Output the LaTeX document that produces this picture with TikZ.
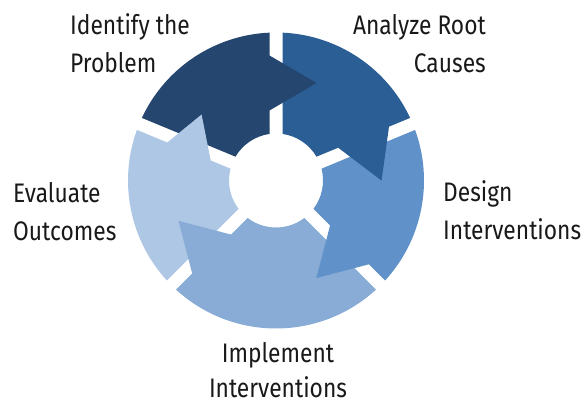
\documentclass[tikz,border=0pt]{standalone}
\usepackage{fontspec}
\setmainfont{Fira Sans}[FakeStretch=0.85]

\definecolor{stepA}{HTML}{24466F}
\definecolor{stepB}{HTML}{2C5E96}
\definecolor{stepC}{HTML}{6092C9}
\definecolor{stepD}{HTML}{88ACD6}
\definecolor{stepE}{HTML}{AEC7E4}

% ring geometry
\def\Ro{148}   % outer radius
\def\Ri{47}    % inner radius
\def\gp{6.5}   % half width of the straight gaps
\pgfmathsetmacro\dO{asin(\gp/\Ro)}
\pgfmathsetmacro\dI{asin(\gp/\Ri)}

% ring segment from gap angle #1 clockwise to gap angle #2
\newcommand\ringseg[3]{%
  \fill[#3] ({#1-\dO}:\Ro) arc[start angle={#1-\dO}, end angle={#2+\dO}, radius=\Ro]
    -- ({#2+\dI}:\Ri) arc[start angle={#2+\dI}, end angle={#1-\dI}, radius=\Ri] -- cycle;}
% triangular head on the end edge at gap angle #1, colour #2,
% base from radius #3 to #4, tip at radius #5 and height #6
% (tucked slightly into the body to avoid a seam)
\newcommand\ringhead[6]{%
  \fill[#2, rotate=#1] (#3,\gp+4) -- (#4,\gp+4) -- (#4,\gp)
    -- (#5,{\gp-#6}) -- (#3,\gp) -- cycle;}

\tikzset{
  lbl/.style={inner sep=0pt, font=\fontsize{26.8}{38}\selectfont, text=black!90}
}

\begin{document}
\begin{tikzpicture}[x=1pt,y=1pt]
\useasboundingbox (0,0) rectangle (585,406);

\begin{scope}[shift={(276,225.5)}]
  \ringseg{157.5}{90}{stepA}
  \ringseg{90}{22.5}{stepB}
  \ringseg{22.5}{-45}{stepC}
  \ringseg{-45}{-135}{stepD}
  \ringseg{-135}{-202.5}{stepE}
  \ringhead{90}{stepA}{70}{125}{97.5}{47}
  \ringhead{22.5}{stepB}{70}{125}{97.5}{47}
  \ringhead{-45}{stepC}{70}{125}{97.5}{47}
  \ringhead{-135}{stepD}{70}{125}{97.5}{47}
  \ringhead{157.5}{stepE}{68}{115}{94}{39}
\end{scope}

% labels (anchor base = baseline of the last line)
\node[lbl, anchor=base west, align=left] (identify) at (70,333) {Identify the\\Problem};
\node[lbl, anchor=base east, align=right] (analyze) at (486,333) {Analyze Root\\Causes};
\node[lbl, anchor=base west, align=left] (design) at (443,166) {Design\\Interventions};
\node[lbl, anchor=base, align=center, font=\fontsize{26.8}{34}\selectfont] (implement) at (278,9) {Implement\\Interventions};
\node[lbl, anchor=base west, align=left] (evaluate) at (13,165) {Evaluate\\Outcomes};
\end{tikzpicture}
\end{document}
